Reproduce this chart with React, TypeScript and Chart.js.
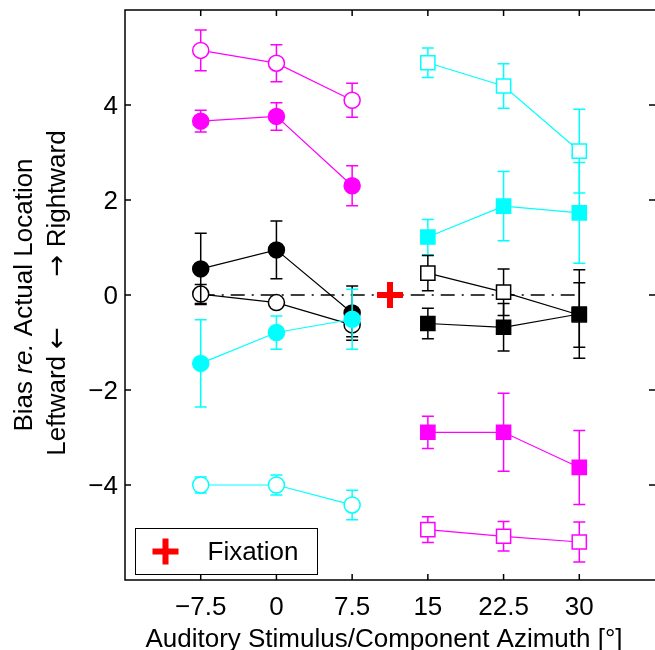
import React, { useEffect, useRef } from 'react';
import { Chart, registerables } from 'chart.js';

Chart.register(...registerables);

// Stimulus azimuths (deg) for the two groups of conditions
const leftAzimuths = [-7.5, 0, 7.5];
const rightAzimuths = [15, 22.5, 30];

// Axis ticks and ranges
const xTicks = [-7.5, 0, 7.5, 15, 22.5, 30];
const yTicks = [-4, -2, 0, 2, 4];
const xRange = [-15, 37.5];
const yRange = [-6, 6];

// Mean bias (deg) and error per condition — circles (left group)
const magentaOpenCircles = [5.15, 4.88, 4.1];
const magentaOpenCirclesErr = [0.43, 0.39, 0.36];
const magentaFilledCircles = [3.66, 3.76, 2.3];
const magentaFilledCirclesErr = [0.23, 0.29, 0.42];
const blackFilledCircles = [0.55, 0.95, -0.38];
const blackFilledCirclesErr = [0.75, 0.61, 0.57];
const blackOpenCircles = [0.02, -0.16, -0.63];
const blackOpenCirclesErr = [0.2, 0.1, 0.25];
const cyanFilledCircles = [-1.44, -0.79, -0.51];
const cyanFilledCirclesErr = [0.92, 0.35, 0.63];
const cyanOpenCircles = [-4.0, -4.0, -4.42];
const cyanOpenCirclesErr = [0.17, 0.21, 0.31];

// Squares (right group)
const cyanOpenSquares = [4.89, 4.4, 3.03];
const cyanOpenSquaresErr = [0.31, 0.47, 0.88];
const cyanFilledSquares = [1.22, 1.87, 1.73];
const cyanFilledSquaresErr = [0.37, 0.73, 1.06];
const blackOpenSquares = [0.46, 0.06, -0.42];
const blackOpenSquaresErr = [0.37, 0.49, 0.68];
const blackFilledSquares = [-0.6, -0.68, -0.4];
const blackFilledSquaresErr = [0.32, 0.5, 0.93];
const magentaFilledSquares = [-2.89, -2.89, -3.63];
const magentaFilledSquaresErr = [0.34, 0.82, 0.78];
const magentaOpenSquares = [-4.94, -5.08, -5.2];
const magentaOpenSquaresErr = [0.27, 0.31, 0.42];

// Fixation point and zero-bias reference line
const fixationAzimuth = [11.25];
const fixationBias = [0];
const zeroLineX = [-7.5, 30];
const zeroLineY = [0, 0];

const MAGENTA = '#ff00ff';
const CYAN = '#00ffff';
const BLACK = '#000000';
const RED = '#ff0000';
const FONT = '"Liberation Sans", Arial, Helvetica, sans-serif';
const ARROW_FONT = '"DejaVu Sans", sans-serif';
const FONT_SIZE = 26;
const CAP = 6;

const fmt = (v: number) => (v < 0 ? '\u2212' + Math.abs(v) : String(v));
const pts = (xs: number[], ys: number[]) => xs.map((x, i) => ({ x, y: ys[i] }));

function series(
  label: string,
  xs: number[],
  ys: number[],
  errs: number[],
  color: string,
  shape: 'circle' | 'rect',
  filled: boolean
) {
  const r = shape === 'rect' ? 10 : 8;
  return {
    label,
    data: pts(xs, ys),
    errorBars: errs,
    showLine: true,
    borderColor: color,
    borderWidth: 1.2,
    pointStyle: shape,
    pointRadius: r,
    pointHoverRadius: r,
    pointBorderWidth: 1.5,
    pointBorderColor: color,
    pointBackgroundColor: filled ? color : '#ffffff',
    backgroundColor: filled ? color : '#ffffff',
  };
}

const errorBarsPlugin = {
  id: 'errorBars',
  beforeDatasetDraw(chart: any, args: any) {
    const ds: any = chart.data.datasets[args.index];
    if (!ds.errorBars) return;
    const { ctx } = chart;
    const { x, y } = chart.scales;
    ctx.save();
    ctx.strokeStyle = ds.borderColor;
    ctx.lineWidth = 1.5;
    ds.data.forEach((p: any, i: number) => {
      const e = ds.errorBars[i];
      const px = x.getPixelForValue(p.x);
      const t = y.getPixelForValue(p.y + e);
      const b = y.getPixelForValue(p.y - e);
      ctx.beginPath();
      ctx.moveTo(px, t);
      ctx.lineTo(px, b);
      ctx.moveTo(px - CAP, t);
      ctx.lineTo(px + CAP, t);
      ctx.moveTo(px - CAP, b);
      ctx.lineTo(px + CAP, b);
      ctx.stroke();
    });
    ctx.restore();
  },
};

// Axes box with inward tick marks on all sides, plus tick labels
const framePlugin = {
  id: 'frame',
  afterDatasetsDraw(chart: any) {
    const { ctx, chartArea } = chart;
    const { left, right, top, bottom } = chartArea;
    const { x, y } = chart.scales;
    const tl = 6;
    ctx.save();
    ctx.strokeStyle = BLACK;
    ctx.lineWidth = 1.5;
    ctx.beginPath();
    ctx.moveTo(right, top);
    ctx.lineTo(left, top);
    ctx.lineTo(left, bottom);
    ctx.lineTo(right, bottom);
    xTicks.forEach((v) => {
      const px = x.getPixelForValue(v);
      ctx.moveTo(px, bottom);
      ctx.lineTo(px, bottom - tl);
      ctx.moveTo(px, top);
      ctx.lineTo(px, top + tl);
    });
    yTicks.forEach((v) => {
      const py = y.getPixelForValue(v);
      ctx.moveTo(left, py);
      ctx.lineTo(left + tl, py);
      ctx.moveTo(right, py);
      ctx.lineTo(right - tl, py);
    });
    ctx.stroke();

    ctx.fillStyle = BLACK;
    ctx.font = `${FONT_SIZE}px ${FONT}`;
    ctx.textBaseline = 'alphabetic';
    ctx.textAlign = 'center';
    xTicks.forEach((v) => {
      ctx.fillText(fmt(v), x.getPixelForValue(v), bottom + 35);
    });
    ctx.textAlign = 'right';
    yTicks.forEach((v) => {
      ctx.fillText(fmt(v), left - 7, y.getPixelForValue(v) + 9);
    });
    ctx.restore();
  },
};

// Boxed legend entry for the fixation marker
const legendPlugin = {
  id: 'fixationLegend',
  afterDraw(chart: any) {
    const { ctx, chartArea } = chart;
    const ds: any = chart.data.datasets.find((d: any) => d.isFixation);
    if (!ds) return;
    const bx = chartArea.left + 10.5;
    const by = chartArea.bottom - 51.5;
    const bw = 182;
    const bh = 46;
    ctx.save();
    ctx.fillStyle = '#ffffff';
    ctx.fillRect(bx, by, bw, bh);
    ctx.strokeStyle = BLACK;
    ctx.lineWidth = 1;
    ctx.strokeRect(bx, by, bw, bh);
    const cx = bx + 30;
    const cy = by + bh / 2;
    const r = ds.pointRadius;
    ctx.strokeStyle = ds.pointBorderColor;
    ctx.lineWidth = ds.pointBorderWidth;
    ctx.beginPath();
    ctx.moveTo(cx - r, cy);
    ctx.lineTo(cx + r, cy);
    ctx.moveTo(cx, cy - r);
    ctx.lineTo(cx, cy + r);
    ctx.stroke();
    ctx.fillStyle = BLACK;
    ctx.font = `${FONT_SIZE}px ${FONT}`;
    ctx.textBaseline = 'middle';
    ctx.textAlign = 'left';
    ctx.fillText(ds.label, bx + 72, cy + 1);
    ctx.restore();
  },
};

// Draws a run of differently styled text pieces centred on (xOff, yOff)
function drawRun(ctx: CanvasRenderingContext2D, parts: { t: string; f: string }[], yOff: number, xOff = 0) {
  let total = 0;
  parts.forEach((p) => {
    ctx.font = p.f;
    total += ctx.measureText(p.t).width;
  });
  let px = -total / 2 + xOff;
  ctx.textAlign = 'left';
  parts.forEach((p) => {
    ctx.font = p.f;
    ctx.fillText(p.t, px, yOff);
    px += ctx.measureText(p.t).width;
  });
}

// Axis titles (the y title mixes upright and italic text)
const titlesPlugin = {
  id: 'axisTitles',
  afterDraw(chart: any) {
    const { ctx, chartArea } = chart;
    const cy = (chartArea.top + chartArea.bottom) / 2;
    const upright = `${FONT_SIZE}px ${FONT}`;
    const italic = `italic ${FONT_SIZE}px ${FONT}`;
    const arrow = `${FONT_SIZE}px ${ARROW_FONT}`;
    ctx.save();
    ctx.fillStyle = BLACK;
    ctx.textBaseline = 'middle';

    ctx.save();
    ctx.translate(25, cy);
    ctx.rotate(-Math.PI / 2);
    drawRun(
      ctx,
      [
        { t: 'Bias ', f: upright },
        { t: 're.', f: italic },
        { t: ' Actual Location', f: upright },
      ],
      0
    );
    drawRun(
      ctx,
      [
        { t: 'Leftward ', f: upright },
        { t: '\u2190', f: arrow },
        { t: '       ', f: upright },
        { t: '\u2192', f: arrow },
        { t: ' Rightward', f: upright },
      ],
      33,
      2
    );
    ctx.restore();

    ctx.font = upright;
    ctx.textAlign = 'center';
    ctx.textBaseline = 'alphabetic';
    ctx.fillText(
      'Auditory Stimulus/Component Azimuth [\u00b0]',
      (chartArea.left + chartArea.right) / 2 - 6,
      chartArea.bottom + 67
    );
    ctx.restore();
  },
};

export default function App() {
  const canvasRef = useRef<HTMLCanvasElement>(null);

  useEffect(() => {
    const canvas = canvasRef.current;
    if (!canvas) return;

    const datasets: any[] = [
      {
        label: 'Fixation',
        isFixation: true,
        data: pts(fixationAzimuth, fixationBias),
        showLine: false,
        pointStyle: 'cross',
        pointRadius: 13,
        pointHoverRadius: 13,
        pointBorderWidth: 6,
        pointBorderColor: RED,
        borderColor: RED,
      },
      series('cyan filled circles', leftAzimuths, cyanFilledCircles, cyanFilledCirclesErr, CYAN, 'circle', true),
      series('cyan open circles', leftAzimuths, cyanOpenCircles, cyanOpenCirclesErr, CYAN, 'circle', false),
      series('magenta filled circles', leftAzimuths, magentaFilledCircles, magentaFilledCirclesErr, MAGENTA, 'circle', true),
      series('magenta open circles', leftAzimuths, magentaOpenCircles, magentaOpenCirclesErr, MAGENTA, 'circle', false),
      series('black filled circles', leftAzimuths, blackFilledCircles, blackFilledCirclesErr, BLACK, 'circle', true),
      series('black open circles', leftAzimuths, blackOpenCircles, blackOpenCirclesErr, BLACK, 'circle', false),
      series('black filled squares', rightAzimuths, blackFilledSquares, blackFilledSquaresErr, BLACK, 'rect', true),
      series('black open squares', rightAzimuths, blackOpenSquares, blackOpenSquaresErr, BLACK, 'rect', false),
      series('cyan filled squares', rightAzimuths, cyanFilledSquares, cyanFilledSquaresErr, CYAN, 'rect', true),
      series('cyan open squares', rightAzimuths, cyanOpenSquares, cyanOpenSquaresErr, CYAN, 'rect', false),
      series('magenta filled squares', rightAzimuths, magentaFilledSquares, magentaFilledSquaresErr, MAGENTA, 'rect', true),
      series('magenta open squares', rightAzimuths, magentaOpenSquares, magentaOpenSquaresErr, MAGENTA, 'rect', false),
      {
        label: 'zero bias',
        data: pts(zeroLineX, zeroLineY),
        showLine: true,
        borderColor: BLACK,
        borderWidth: 1.5,
        borderDash: [14, 7, 2, 7],
        pointRadius: 0,
        pointHoverRadius: 0,
      },
    ];

    const chart = new Chart(canvas, {
      type: 'scatter',
      data: { datasets },
      options: {
        animation: false,
        responsive: false,
        events: [],
        layout: { autoPadding: false, padding: { top: 10, right: 0, left: 125, bottom: 70 } },
        plugins: {
          legend: { display: false },
          tooltip: { enabled: false },
          title: { display: false },
        },
        scales: {
          x: { type: 'linear', display: false, min: xRange[0], max: xRange[1] },
          y: { type: 'linear', display: false, min: yRange[0], max: yRange[1] },
        },
      } as any,
      plugins: [errorBarsPlugin, framePlugin, legendPlugin, titlesPlugin],
    });

    return () => chart.destroy();
  }, []);

  return (
    <div style={{ position: 'fixed', left: 0, top: 0, width: 655, height: 650, background: '#fff' }}>
      <canvas ref={canvasRef} width={655} height={650} style={{ display: 'block' }} />
    </div>
  );
}
